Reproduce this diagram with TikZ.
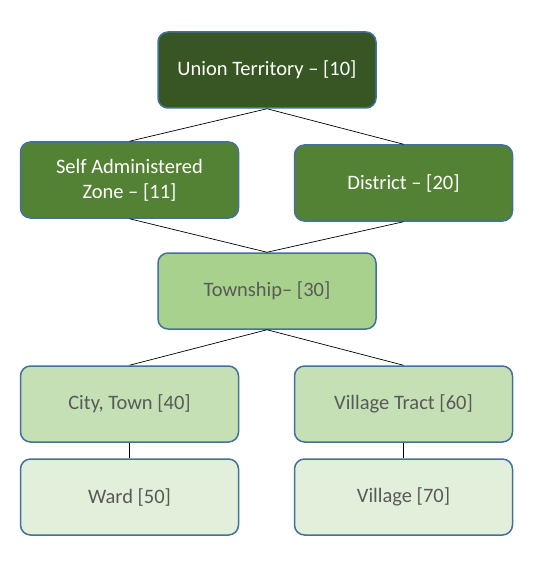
\documentclass[tikz,border=0pt]{standalone}
\usepackage{fontspec}
\setmainfont{Carlito}
\usepackage{xcolor}
\definecolor{lvlA}{HTML}{375623}
\definecolor{lvlB}{HTML}{548235}
\definecolor{lvlC}{HTML}{A9D18E}
\definecolor{lvlD}{HTML}{C5E0B4}
\definecolor{lvlE}{HTML}{E2EFDA}
\definecolor{edgeBlue}{HTML}{41719C}
\definecolor{txtGray}{HTML}{595959}
\begin{document}
\begin{tikzpicture}[x=1pt,y=-1pt]
% define the boxes
\tikzset{unit/.style={draw=edgeBlue,line width=1.5pt,rounded corners=10pt,
    minimum width=218pt,minimum height=76pt,align=center,font=\fontsize{20.5}{25}\selectfont}}
\tikzset{dark/.style={unit,text=white}}
\tikzset{light/.style={unit,text=txtGray}}
\tikzset{link/.style={line width=0.7pt}}

%% CONFIG
\def\xL{129.5}
\def\xR{403.5}
\def\xM{267}

\useasboundingbox (0,0) rectangle (538,577);

% Draw the levels
\node[dark,fill=lvlA] (union) at (\xM,70) {Union Territory -- [10]};
\node[dark,fill=lvlB] (saz) at (\xL,180) {Self Administered\\Zone -- [11]};
\node[dark,fill=lvlB] (district) at (\xR,183) {District -- [20]};
\node[light,fill=lvlC] (township) at (\xM,291) {Township-- [30]};
\node[light,fill=lvlD] (city) at (\xL,404) {City, Town [40]};
\node[light,fill=lvlD] (tract) at (\xR,404) {Village Tract [60]};
\node[light,fill=lvlE] (ward) at (\xL,497) {Ward [50]};
\node[light,fill=lvlE] (village) at (\xR,497) {Village [70]};

% Connectors between levels
\draw [link] (union.south) -- (saz.north) (union.south) -- (district.north);
\draw [link] (saz.south) -- (township.north) (district.south) -- (township.north);
\draw [link] (township.south) -- (city.north) (township.south) -- (tract.north);
\draw [link] (city.south) -- (ward.north) (tract.south) -- (village.north);

\end{tikzpicture}
\end{document}
